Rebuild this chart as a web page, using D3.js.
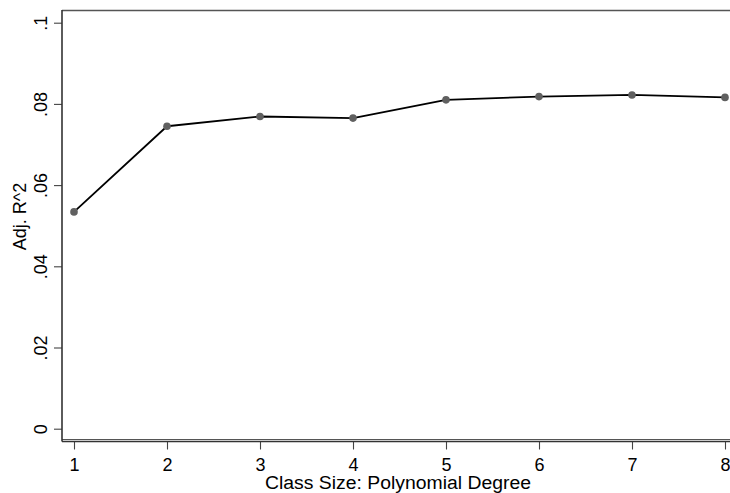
<!DOCTYPE html>
<html>
<head>
<meta charset="utf-8">
<script src="https://cdn.jsdelivr.net/npm/d3@7"></script>
<style>
  html, body { margin: 0; padding: 0; background: #fff; }
  svg { display: block; font-family: "Liberation Sans", Arial, Helvetica, sans-serif; }
</style>
</head>
<body>
<svg id="chart" width="730" height="493"></svg>
<script>
// Polynomial degree of class size vs. adjusted R-squared
const degrees = [1, 2, 3, 4, 5, 6, 7, 8];
const adjR2 = [0.0534, 0.0745, 0.0769, 0.0765, 0.0810, 0.0818, 0.0822, 0.0816];
const yTickValues = [0, 0.02, 0.04, 0.06, 0.08, 0.1];
const yTickLabels = ["0", ".02", ".04", ".06", ".08", ".1"];
const xTickValues = [1, 2, 3, 4, 5, 6, 7, 8];

const svg = d3.select("#chart");
const W = 730, H = 493;

const plotLeft = 62, plotTop = 10.5, plotBottom = 439.5, axisY = 441.5;

const x = d3.scaleLinear().domain([1, 8]).range([74, 725]);
const y = d3.scaleLinear().domain([0, 0.1]).range([428.7, 22.7]);

// plot region border (top and bottom edges; right edge runs off the page)
svg.append("line")
  .attr("x1", plotLeft).attr("x2", W + 5)
  .attr("y1", plotTop).attr("y2", plotTop)
  .attr("stroke", "#555").attr("stroke-width", 1.3);
svg.append("line")
  .attr("x1", plotLeft).attr("x2", W + 5)
  .attr("y1", plotBottom).attr("y2", plotBottom)
  .attr("stroke", "#555").attr("stroke-width", 1.1);

// y axis
const yAxis = d3.axisLeft(y)
  .tickValues(yTickValues)
  .tickSize(8)
  .tickPadding(0)
  .tickFormat((d, i) => yTickLabels[i]);
const gy = svg.append("g").attr("transform", `translate(${plotLeft},0)`).call(yAxis);
gy.select(".domain").remove();
gy.selectAll(".tick line").attr("stroke", "#444").attr("stroke-width", 1.1);
gy.selectAll(".tick text")
  .attr("x", null).attr("dy", null)
  .attr("transform", "translate(-15.5,0) rotate(-90)")
  .attr("text-anchor", "middle")
  .attr("fill", "#000")
  .style("font-size", "18px");
svg.append("line")
  .attr("x1", plotLeft).attr("x2", plotLeft)
  .attr("y1", plotTop - 0.5).attr("y2", axisY)
  .attr("stroke", "#333").attr("stroke-width", 1.6);

// x axis
const xAxis = d3.axisBottom(x)
  .tickValues(xTickValues)
  .tickSize(8)
  .tickPadding(4)
  .tickFormat(d3.format("d"));
const gx = svg.append("g").attr("transform", `translate(0,${axisY})`).call(xAxis);
gx.select(".domain").remove();
gx.selectAll(".tick line").attr("stroke", "#444").attr("stroke-width", 1.1);
gx.selectAll(".tick text")
  .attr("fill", "#000")
  .attr("dy", null)
  .attr("y", 29)
  .style("font-size", "18px");
svg.append("line")
  .attr("x1", plotLeft).attr("x2", W + 5)
  .attr("y1", axisY).attr("y2", axisY)
  .attr("stroke", "#333").attr("stroke-width", 1.4);

// axis titles
svg.append("text")
  .attr("x", 398).attr("y", 488.5)
  .attr("text-anchor", "middle")
  .attr("textLength", 266).attr("lengthAdjust", "spacingAndGlyphs")
  .style("font-size", "18px")
  .text("Class Size: Polynomial Degree");
svg.append("text")
  .attr("transform", "translate(25.5,216.5) rotate(-90)")
  .attr("text-anchor", "middle")
  .style("font-size", "18px")
  .text("Adj. R^2");

// connected line and markers
const line = d3.line().x((d, i) => x(degrees[i])).y(d => y(d));
svg.append("path")
  .datum(adjR2)
  .attr("d", line)
  .attr("fill", "none")
  .attr("stroke", "#000")
  .attr("stroke-width", 1.8)
  .attr("stroke-linejoin", "round");
svg.append("g").selectAll("circle")
  .data(adjR2)
  .join("circle")
  .attr("cx", (d, i) => x(degrees[i]))
  .attr("cy", d => y(d))
  .attr("r", 3.8)
  .attr("fill", "#606060");
</script>
</body>
</html>
